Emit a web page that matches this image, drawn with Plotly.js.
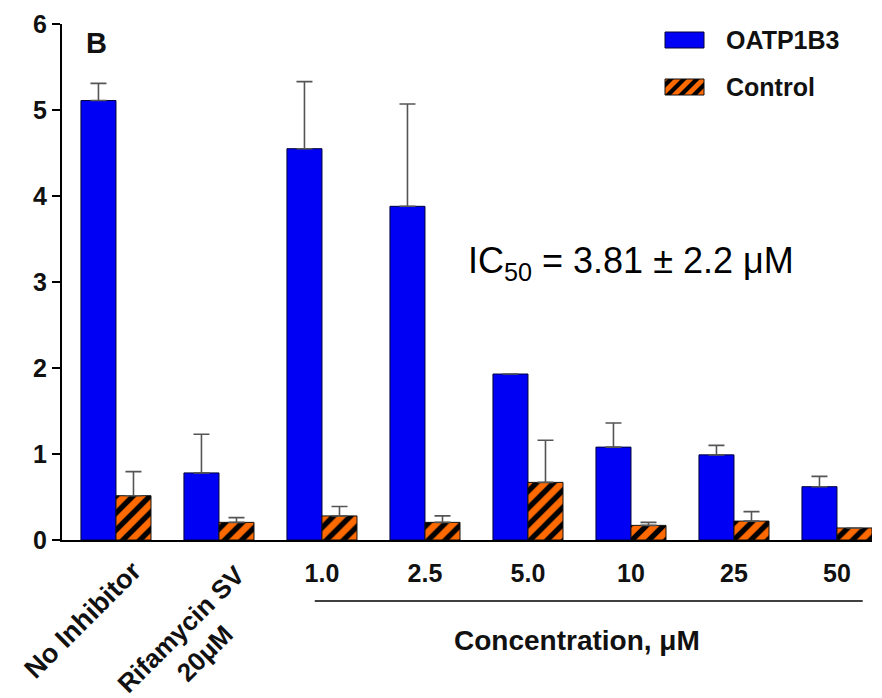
<!DOCTYPE html>
<html>
<head>
<meta charset="utf-8">
<script src="https://cdn.plot.ly/plotly-3.0.1.min.js"></script>
<style>html,body{margin:0;padding:0;background:#fff;}</style>
</head>
<body>
<div id="chart" style="width:882px;height:698px;"></div>
<script>
var categories = ["No Inhibitor", "Rifamycin SV 20μM", "1.0", "2.5", "5.0", "10", "25", "50"];
var oatpValues = [5.11, 0.78, 4.55, 3.88, 1.93, 1.08, 0.99, 0.62];
var oatpErrors = [0.20, 0.45, 0.78, 1.19, 0.0, 0.28, 0.11, 0.12];
var controlValues = [0.515, 0.205, 0.28, 0.205, 0.67, 0.17, 0.22, 0.14];
var controlErrors = [0.28, 0.055, 0.11, 0.075, 0.49, 0.035, 0.11, 0.0];
var seriesNames = ["OATP1B3", "Control"];
var concTickLabels = ["1.0", "2.5", "5.0", "10", "25", "50"];
var rotatedLabels = ["No Inhibitor", "Rifamycin SV<br>20μM"];
var yTicks = [0, 1, 2, 3, 4, 5, 6];

var idx = categories.map(function (c, i) { return i; });
var zeros = categories.map(function () { return 0; });
var boldFont = "Liberation Sans, Arial, sans-serif";
var BLUE = "#0000f5", ORANGE = "#ff6a00";

// plot area geometry (pixels)
var W = 882, H = 698, ML = 62, MR = 10, MT = 24, MB = 158;
var PW = W - ML - MR, PH = H - MT - MB;
function px2x(p) { return (p - ML) / PW; }
function px2y(p) { return (H - MB - p) / PH; }

var traces = [
  {
    type: "bar", name: seriesNames[0], x: idx, y: oatpValues,
    marker: { color: BLUE, line: { color: "#00003a", width: 1 } },
    error_y: { type: "data", symmetric: false, array: oatpErrors, arrayminus: zeros,
      color: "#555", thickness: 1.6, width: 8 }
  },
  {
    type: "bar", name: seriesNames[1], x: idx, y: controlValues,
    marker: { color: ORANGE, line: { color: "#111", width: 1 },
      pattern: { shape: "/", fgcolor: "#000", bgcolor: ORANGE, size: 12, solidity: 0.45 } },
    error_y: { type: "data", symmetric: false, array: controlErrors, arrayminus: zeros,
      color: "#555", thickness: 1.6, width: 8 }
  }
];

// ---- manual legend keys (pixel boxes) ----
var key1 = { x0: 665, x1: 704, y0: 32, y1: 48 };
var key2 = { x0: 665, x1: 704, y0: 79, y1: 95 };

function clipPoly(poly, xmin, xmax, ymin, ymax) {
  var edges = [
    function (p) { return p[0] >= xmin; }, function (p) { return p[0] <= xmax; },
    function (p) { return p[1] >= ymin; }, function (p) { return p[1] <= ymax; }
  ];
  var inter = [
    function (a, b) { var t = (xmin - a[0]) / (b[0] - a[0]); return [xmin, a[1] + t * (b[1] - a[1])]; },
    function (a, b) { var t = (xmax - a[0]) / (b[0] - a[0]); return [xmax, a[1] + t * (b[1] - a[1])]; },
    function (a, b) { var t = (ymin - a[1]) / (b[1] - a[1]); return [a[0] + t * (b[0] - a[0]), ymin]; },
    function (a, b) { var t = (ymax - a[1]) / (b[1] - a[1]); return [a[0] + t * (b[0] - a[0]), ymax]; }
  ];
  var out = poly;
  for (var e = 0; e < 4; e++) {
    var input = out; out = [];
    for (var i = 0; i < input.length; i++) {
      var cur = input[i], prev = input[(i + input.length - 1) % input.length];
      var cIn = edges[e](cur), pIn = edges[e](prev);
      if (cIn) { if (!pIn) out.push(inter[e](prev, cur)); out.push(cur); }
      else if (pIn) out.push(inter[e](prev, cur));
    }
    if (!out.length) break;
  }
  return out;
}

var stripePath = "";
var kh = key2.y1 - key2.y0;
for (var s = key2.x0 - 26; s < key2.x1 + 4; s += 13) {
  // "/" stripe: bottom edge from s to s+6, top edge shifted right by height
  var poly = [[s, key2.y1], [s + 6, key2.y1], [s + 6 + kh, key2.y0], [s + kh, key2.y0]];
  var c = clipPoly(poly, key2.x0, key2.x1, key2.y0, key2.y1);
  if (c.length > 2) {
    stripePath += c.map(function (p, i) { return (i ? "L" : "M") + px2x(p[0]).toFixed(5) + "," + px2y(p[1]).toFixed(5); }).join("") + "Z";
  }
}

var shapes = [
  { type: "line", xref: "x", yref: "paper", x0: 1.93, x1: 7.25, y0: -0.118, y1: -0.118,
    line: { color: "#000", width: 1.5 } },
  { type: "rect", xref: "paper", yref: "paper", x0: px2x(key1.x0), x1: px2x(key1.x1), y0: px2y(key1.y1), y1: px2y(key1.y0),
    fillcolor: BLUE, line: { color: "#00003a", width: 1 } },
  { type: "rect", xref: "paper", yref: "paper", x0: px2x(key2.x0), x1: px2x(key2.x1), y0: px2y(key2.y1), y1: px2y(key2.y0),
    fillcolor: ORANGE, line: { width: 0 } },
  { type: "path", xref: "paper", yref: "paper", path: stripePath, fillcolor: "#000", line: { width: 0 } },
  { type: "rect", xref: "paper", yref: "paper", x0: px2x(key2.x0), x1: px2x(key2.x1), y0: px2y(key2.y1), y1: px2y(key2.y0),
    fillcolor: "rgba(0,0,0,0)", line: { color: "#111", width: 1 } }
];

var annotations = [
  { xref: "x", yref: "paper", x: 0, y: -0.025, xshift: 34, xanchor: "right", yanchor: "top",
    text: rotatedLabels[0], textangle: -45, showarrow: false,
    font: { family: boldFont, size: 27, color: "#111", weight: "bold" } },
  { xref: "x", yref: "paper", x: 1, y: -0.025, xshift: 59, yshift: -4, xanchor: "right", yanchor: "top",
    text: rotatedLabels[1], textangle: -45, showarrow: false, align: "center",
    font: { family: boldFont, size: 26, color: "#111", weight: "bold" } },
  { xref: "paper", yref: "paper", x: 0.636, y: -0.194, xanchor: "center", yanchor: "middle",
    text: "Concentration, μM", showarrow: false,
    font: { family: boldFont, size: 28, color: "#111", weight: "bold" } },
  { xref: "paper", yref: "paper", x: 0.703, y: 0.537, xanchor: "center", yanchor: "middle",
    text: "IC<sub>50</sub> = 3.81 ± 2.2 μM", showarrow: false,
    font: { family: "Liberation Sans, Arial, sans-serif", size: 36, color: "#000" } },
  { xref: "paper", yref: "paper", x: 0.043, y: 0.963, xanchor: "center", yanchor: "middle",
    text: "B", showarrow: false,
    font: { family: boldFont, size: 29, color: "#111", weight: "bold" } },
  { xref: "paper", yref: "paper", x: px2x(724), y: px2y(40), xanchor: "left", yanchor: "middle",
    text: seriesNames[0], showarrow: false,
    font: { family: boldFont, size: 25, color: "#111", weight: "bold" } },
  { xref: "paper", yref: "paper", x: px2x(724), y: px2y(87), xanchor: "left", yanchor: "middle",
    text: seriesNames[1], showarrow: false,
    font: { family: boldFont, size: 25, color: "#111", weight: "bold" } }
];

var layout = {
  width: W, height: H,
  margin: { l: ML, r: MR, t: MT, b: MB },
  paper_bgcolor: "#fff", plot_bgcolor: "#fff",
  barmode: "group", bargap: 0.32, bargroupgap: 0,
  showlegend: false,
  xaxis: {
    range: [-0.524, 7.34], showgrid: false, zeroline: false,
    showline: true, linecolor: "#000", linewidth: 2,
    tickvals: [2, 3, 4, 5, 6, 7], ticktext: concTickLabels, ticks: "",
    ticklabelstandoff: 10,
    tickfont: { family: boldFont, size: 25, color: "#111", weight: "bold" }
  },
  yaxis: {
    range: [0, 6], tickvals: yTicks, showgrid: false, zeroline: false,
    showline: true, linecolor: "#000", linewidth: 2,
    ticks: "outside", ticklen: 8, tickwidth: 2, tickcolor: "#000",
    tickfont: { family: boldFont, size: 25, color: "#111", weight: "bold" }
  },
  shapes: shapes,
  annotations: annotations
};

Plotly.newPlot("chart", traces, layout, { displayModeBar: false, staticPlot: true });
</script>
</body>
</html>
